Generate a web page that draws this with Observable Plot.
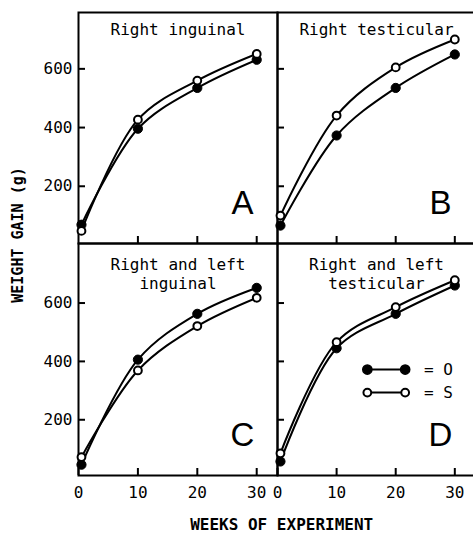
<!DOCTYPE html>
<html>
<head>
<meta charset="utf-8">
<script src="https://cdn.jsdelivr.net/npm/d3@7"></script>
<script src="https://cdn.jsdelivr.net/npm/@observablehq/plot@0.6"></script>
<style>
  html, body { margin: 0; padding: 0; background: #fff; overflow: hidden; }
  #chart { position: relative; width: 473px; height: 535px; overflow: hidden; background: #fff; }
  .panel { position: absolute; }
  .panel svg { overflow: visible; }
  .lab { position: absolute; font-family: "DejaVu Sans Mono", monospace; font-weight: bold; color: #000; white-space: nowrap; }
</style>
</head>
<body>
<div id="chart"></div>
<script>
// ---- data ----
const weeks = [0.5, 10, 20, 30];
const panelTitles = ["Right inguinal", "Right testicular", "Right and left\ninguinal", "Right and left\ntesticular"];
const panelLetters = ["A", "B", "C", "D"];
// weight gain (g), group O (filled circles) and group S (open circles)
const gainO_A = [69, 396, 535, 631];
const gainS_A = [48, 427, 560, 651];
const gainO_B = [66, 373, 535, 649];
const gainS_B = [100, 441, 605, 700];
const gainO_C = [46, 406, 563, 652];
const gainS_C = [72, 369, 521, 618];
const gainO_D = [57, 445, 563, 660];
const gainS_D = [85, 466, 586, 678];
const yTicks = [200, 400, 600];
const xTicks = [0, 10, 20, 30];
const legendLabels = ["O", "S"];
const xLabel = "WEEKS OF EXPERIMENT";
const yLabel = "WEIGHT GAIN (g)";

const seriesO = [gainO_A, gainO_B, gainO_C, gainO_D];
const seriesS = [gainS_A, gainS_B, gainS_C, gainS_D];

const layout = [
  {left: 78, top: 12, width: 199, height: 231, row: 0, col: 0},
  {left: 277, top: 12, width: 198, height: 231, row: 0, col: 1},
  {left: 78, top: 243, width: 199, height: 232, row: 1, col: 0},
  {left: 277, top: 243, width: 198, height: 232, row: 1, col: 1}
];

const chart = document.getElementById("chart");
const mono = "DejaVu Sans Mono";

layout.forEach((L, i) => {
  const rows = [];
  weeks.forEach((w, j) => {
    rows.push({week: w, gain: seriesO[i][j], group: "O"});
    rows.push({week: w, gain: seriesS[i][j], group: "S"});
  });
  const O = rows.filter(d => d.group === "O");
  const S = rows.filter(d => d.group === "S");
  const marks = [
    Plot.frame({stroke: "black", strokeWidth: 2}),
    Plot.axisY(yTicks, {
      anchor: "left", tickSize: -7, tickPadding: 13, strokeWidth: 2, label: null,
      tickFormat: L.col === 0 ? (d => d) : (() => ""),
      fontSize: 16, fontFamily: mono
    }),
    Plot.axisX(L.row === 1 ? xTicks : xTicks.slice(1), {
      anchor: "bottom", tickSize: -7, tickPadding: 18, strokeWidth: 2, label: null,
      tickFormat: L.row === 1 ? (d => d) : (() => ""),
      fontSize: 16, fontFamily: mono
    }),
    Plot.line(O, {x: "week", y: "gain", stroke: "black", strokeWidth: 2, curve: "catmull-rom"}),
    Plot.line(S, {x: "week", y: "gain", stroke: "black", strokeWidth: 2, curve: "catmull-rom"}),
    Plot.dot(O, {x: "week", y: "gain", r: 4.6, fill: "black", stroke: "black", strokeWidth: 1}),
    Plot.dot(S, {x: "week", y: "gain", r: 3.9, fill: "white", stroke: "black", strokeWidth: 2}),
    Plot.text([panelTitles[i]], {
      frameAnchor: "top", textAnchor: "middle", lineAnchor: "top",
      dy: L.row === 0 ? 9 : 12.6, fontSize: 16, fontFamily: mono, lineHeight: 1.2, fill: "black"
    }),
    Plot.text([panelLetters[i]], {
      frameAnchor: "bottom-right", textAnchor: "middle", lineAnchor: "middle",
      dx: -35, dy: -40, fontSize: 33, fontFamily: "Liberation Sans", fill: "black"
    })
  ];
  if (i === 3) {
    // legend (placed in panel D)
    const leg = legendLabels.map((lab, k) => ({lab, y: k === 0 ? 372 : 293, x1: 15.2, x2: 21.6}));
    const ends = leg.flatMap(d => [{x: d.x1, y: d.y, lab: d.lab}, {x: d.x2, y: d.y, lab: d.lab}]);
    marks.push(
      Plot.link(leg, {x1: "x1", x2: "x2", y1: "y", y2: "y", stroke: "black", strokeWidth: 2}),
      Plot.dot(ends.filter(d => d.lab === "O"), {x: "x", y: "y", r: 4.6, fill: "black", stroke: "black"}),
      Plot.dot(ends.filter(d => d.lab === "S"), {x: "x", y: "y", r: 3.9, fill: "white", stroke: "black", strokeWidth: 2}),
      Plot.text(leg, {x: 24.8, y: "y", text: d => "= " + d.lab, textAnchor: "start", fontSize: 16, fontFamily: mono, fill: "black"})
    );
  }
  const svg = Plot.plot({
    width: L.width,
    height: L.height,
    margin: 0,
    x: {domain: [0, 33.5]},
    y: {domain: L.row === 0 ? [5, 792] : [9, 804]},
    style: {background: "transparent", overflow: "visible", fontFamily: mono, fontSize: "16px", color: "black"},
    marks
  });
  const wrap = document.createElement("div");
  wrap.className = "panel";
  wrap.style.left = L.left + "px";
  wrap.style.top = L.top + "px";
  wrap.style.width = L.width + "px";
  wrap.style.height = L.height + "px";
  svg.style.maxWidth = "none";
  wrap.appendChild(svg);
  chart.appendChild(wrap);
});

// axis titles
const xl = document.createElement("div");
xl.className = "lab";
xl.textContent = xLabel;
xl.style.fontSize = "16px";
xl.style.left = "281.7px";
xl.style.top = "523.7px";
xl.style.transform = "translate(-50%, -50%)";
chart.appendChild(xl);

const yl = document.createElement("div");
yl.className = "lab";
yl.textContent = yLabel;
yl.style.fontSize = "15px";
yl.style.left = "18px";
yl.style.top = "235px";
yl.style.transform = "translate(-50%, -50%) rotate(-90deg)";
chart.appendChild(yl);
</script>
</body>
</html>
